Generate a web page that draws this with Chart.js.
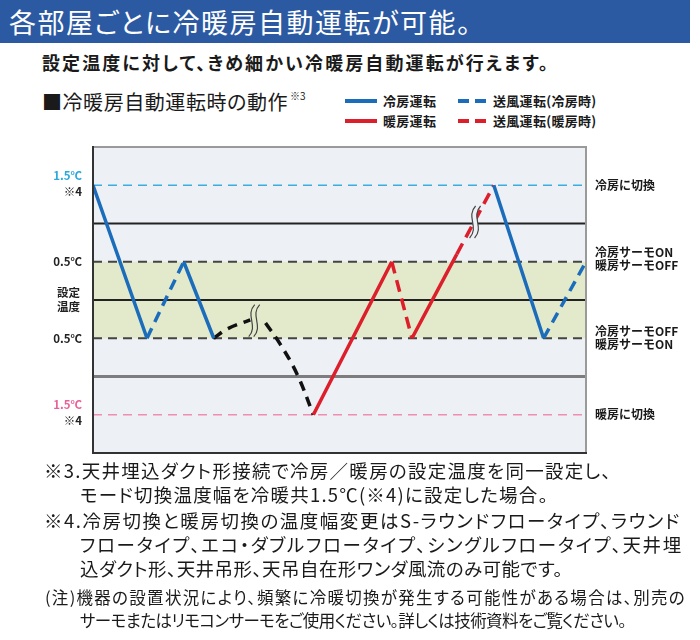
<!DOCTYPE html>
<html lang="ja">
<head>
<meta charset="utf-8">
<script src="https://cdn.jsdelivr.net/npm/chart.js@4.4.0/dist/chart.umd.min.js"></script>
<style>
  body { margin: 0; width: 700px; height: 640px; background: #fff; position: relative; overflow: hidden;
         font-family: "Noto Sans CJK JP", "Noto Sans", sans-serif; color: #1a1a1a; }
  .abs { position: absolute; white-space: nowrap; }
  .fit { font-feature-settings: "palt"; }
  #header { left: 0; top: 0; width: 690px; height: 43px; background: #2c5aa2; color: #fff;
            font-size: 27px; line-height: 43px; padding-left: 9px; box-sizing: border-box; }
  #sub { left: 42px; top: 50px; font-size: 18px; line-height: 24px; font-weight: bold; }
  #section { left: 42px; top: 89px; font-size: 20px; line-height: 26px; }
  #sectionSup { left: 290px; top: 90px; font-size: 10px; line-height: 12px; }
  .leg { font-size: 13px; font-weight: bold; line-height: 16px; letter-spacing: 0.3px; }
  .leg svg { position: absolute; top: 6px; }
  .note { font-size: 18.5px; line-height: 24px; }
  .note2 { font-size: 16.5px; line-height: 22px; }
  #wrap { position: absolute; left: 0; top: 130px; width: 700px; height: 340px; }
</style>
</head>
<body>
<div id="header" class="abs"><span class="fit" data-right="472">各部屋ごとに冷暖房自動運転が可能。</span></div>
<div id="sub" class="abs fit" data-right="550">設定温度に対して、きめ細かい冷暖房自動運転が行えます。</div>
<div id="section" class="abs fit" data-right="288">■冷暖房自動運転時の動作</div>
<div id="sectionSup" class="abs">※3</div>
<div id="legend"></div>
<div id="wrap"><canvas id="autoChart"></canvas></div>
<div class="abs note fit" data-right="612" style="left:44px; top:458px;">※3.天井埋込ダクト形接続で冷房／暖房の設定温度を同一設定し、</div>
<div class="abs note fit" data-right="549" style="left:80px; top:482px;">モード切換温度幅を冷暖共1.5℃(※4)に設定した場合。</div>
<div class="abs note fit" data-right="681" style="left:44px; top:508px;">※4.冷房切換と暖房切換の温度幅変更はS-ラウンドフロータイプ、ラウンド</div>
<div class="abs note fit" data-right="683" style="left:80px; top:532px;">フロータイプ、エコ・ダブルフロータイプ、シングルフロータイプ、天井埋</div>
<div class="abs note fit" data-right="563" style="left:80px; top:556px;">込ダクト形、天井吊形、天吊自在形ワンダ風流のみ可能です。</div>
<div class="abs note2 fit" data-right="686" style="left:45px; top:586px;">(注)機器の設置状況により、頻繁に冷暖切換が発生する可能性がある場合は、別売の</div>
<div class="abs note2 fit" data-right="626" style="left:80px; top:609px;">サーモまたはリモコンサーモをご使用ください。詳しくは技術資料をご覧ください。</div>

<script>
// 横位置 0〜100、縦は設定温度との差(℃)
const coolX = [0, 10.95, 14, 18.4, 24.5, 50, 81.3, 91.4];
const coolY = [1.5, -0.5, null, 0.5, -0.5, null, 1.5, -0.5];
const coolFanX = [10.95, 18.4, 50, 91.4, 100];
const coolFanY = [-0.5, 0.5, null, -0.5, 0.5];
const heatX = [44.7, 60.6, 62, 64.7, 73.8];
const heatY = [-1.5, 0.5, null, -0.5, 0.6];
const heatFanX = [60.6, 64.7, 70, 73.8, 81.3];
const heatFanY = [0.5, -0.5, null, 0.6, 1.5];
const transAX = [24.5, 27.2, 31.9];
const transAY = [-0.5, -0.38, -0.26];
const transBX = [35.0, 38.0, 41.4, 44.7];
const transBY = [-0.30, -0.58, -0.97, -1.5];
const breakX = [32.7, 77.5];
const breakY = [-0.27, 1.02];

// 基準線
const refTemps = [1.5, 1.0, 0.5, 0, -0.5, -1.0, -1.5];
const refColors = ['#3badde', '#222222', '#444444', '#222222', '#444444', '#7d7d7d', '#f08db0'];
const refDash = [[9, 6], [], [9, 6], [], [9, 6], [], [9, 6]];
const refWidth = [1.6, 2, 2, 2, 2, 3, 1.6];
const bandTemps = [0.5, -0.5];

const leftValues = [1.5, 0.5, 0, -0.5, -1.5];
const leftLabels = [['1.5℃', '※4'], ['0.5℃'], ['設定', '温度'], ['0.5℃'], ['1.5℃', '※4']];
const leftColors = [['#2aa7dc', '#222'], ['#222'], ['#222'], ['#222'], ['#e8609a', '#222']];
const rightValues = [1.5, 0.5, -0.5, -1.5];
const rightLabels = [['冷房に切換'], ['冷房サーモON', '暖房サーモOFF'], ['冷房サーモOFF', '暖房サーモON'], ['暖房に切換']];

const legendLabels = ['冷房運転', '送風運転(冷房時)', '暖房運転', '送風運転(暖房時)'];
const legendColors = ['#1b6dbb', '#1b6dbb', '#dc1f2b', '#dc1f2b'];
const legendDashed = [false, true, false, true];

const BLUE = '#1b6dbb', RED = '#dc1f2b';
const pts = (xs, ys) => xs.map((x, i) => ({ x: x, y: ys[i] }));

// 文字列の幅を参照画像に合わせる
document.querySelectorAll('[data-right]').forEach(el => {
    el.style.letterSpacing = '0px';
    const r = el.getBoundingClientRect();
    const n = el.textContent.length;
    const ls = (Number(el.dataset.right) - r.right) / n;
    el.style.letterSpacing = ls.toFixed(2) + 'px';
});

// 凡例 (2列×2行)
const legendEl = document.getElementById('legend');
legendLabels.forEach((name, i) => {
    const col = i % 2, row = Math.floor(i / 2);
    const left = col === 0 ? 345 : 458;
    const top = row === 0 ? 93 : 113;
    const dash = legendDashed[i] ? 'stroke-dasharray="11,6"' : '';
    const div = document.createElement('div');
    div.className = 'abs leg';
    div.style.left = left + 'px';
    div.style.top = top + 'px';
    div.style.paddingLeft = (col === 0 ? 38 : 35) + 'px';
    div.innerHTML = '<svg width="32" height="4" style="left:0"><line x1="0" y1="2" x2="' + (col === 0 ? 32 : 29) +
        '" y2="2" stroke="' + legendColors[i] + '" stroke-width="4" ' + dash + '/></svg>' + name;
    legendEl.appendChild(div);
});

const lineStyle = (color, dash) => ({
    borderColor: color, borderWidth: 3.5, borderDash: dash, pointRadius: 0,
    fill: false, spanGaps: false, order: 0
});

const datasets = [
    Object.assign({ data: pts(coolX, coolY) }, lineStyle(BLUE, [])),
    Object.assign({ data: pts(coolFanX, coolFanY) }, lineStyle(BLUE, [11, 7])),
    Object.assign({ data: pts(heatX, heatY) }, lineStyle(RED, [])),
    Object.assign({ data: pts(heatFanX, heatFanY) }, lineStyle(RED, [12, 7])),
    Object.assign({ data: pts(transAX, transAY), tension: 0.4 }, lineStyle('#111', [10, 7])),
    Object.assign({ data: pts(transBX, transBY), tension: 0.4 }, lineStyle('#111', [10, 7]))
];
refTemps.forEach((t, i) => {
    datasets.push({
        data: [{ x: 0, y: t }, { x: 100, y: t }],
        borderColor: refColors[i], borderWidth: refWidth[i], borderDash: refDash[i],
        pointRadius: 0, fill: false, order: 1
    });
});
datasets.push({
    data: [{ x: 0, y: bandTemps[0] }, { x: 100, y: bandTemps[0] }],
    borderWidth: 0, pointRadius: 0, backgroundColor: '#e3eacb',
    fill: { value: bandTemps[1] }, order: 2
});

const BG = '#edf0f5';

const framePlugin = {
    id: 'frame',
    beforeDraw(chart) {
        const { ctx, chartArea: a } = chart;
        ctx.save();
        ctx.fillStyle = BG;
        ctx.fillRect(a.left, a.top, a.right - a.left, a.bottom - a.top);
        ctx.restore();
    },
    afterDatasetsDraw(chart) {
        const { ctx, chartArea: a, scales } = chart;
        ctx.save();
        // 省略記号
        breakX.forEach((bx, i) => {
            const cx = scales.x.getPixelForValue(bx);
            const cy = scales.y.getPixelForValue(breakY[i]);
            const h = 32, gap = 5;
            const curve = (ox, reverse) => {
                if (!reverse) {
                    ctx.moveTo(cx + ox + 3, cy - h / 2);
                    ctx.bezierCurveTo(cx + ox - 7, cy - h / 6, cx + ox + 7, cy + h / 6, cx + ox - 3, cy + h / 2);
                } else {
                    ctx.lineTo(cx + ox - 3, cy + h / 2);
                    ctx.bezierCurveTo(cx + ox + 7, cy + h / 6, cx + ox - 7, cy - h / 6, cx + ox + 3, cy - h / 2);
                }
            };
            ctx.beginPath();
            curve(-gap / 2, false);
            curve(gap / 2, true);
            ctx.closePath();
            ctx.fillStyle = Math.abs(breakY[i]) < 0.5 ? '#e3eacb' : BG;
            ctx.fill();
            ctx.strokeStyle = '#444';
            ctx.lineWidth = 1.2;
            ctx.beginPath();
            curve(-gap / 2, false);
            ctx.stroke();
            ctx.beginPath();
            curve(gap / 2, false);
            ctx.stroke();
        });
        // 枠
        ctx.lineWidth = 2;
        ctx.strokeStyle = '#9a9a9a';
        ctx.beginPath();
        ctx.moveTo(a.left, a.top); ctx.lineTo(a.right, a.top); ctx.lineTo(a.right, a.bottom);
        ctx.stroke();
        ctx.strokeStyle = '#333';
        ctx.beginPath();
        ctx.moveTo(a.left, a.top - 1); ctx.lineTo(a.left, a.bottom); ctx.lineTo(a.right + 1, a.bottom);
        ctx.stroke();
        ctx.restore();
    },
    afterDraw(chart) {
        const { ctx, scales } = chart;
        ctx.save();
        ctx.textBaseline = 'middle';
        ctx.font = 'bold 11.5px "Noto Sans CJK JP"';
        ctx.textAlign = 'right';
        leftValues.forEach((v, i) => {
            const py = scales.y.getPixelForValue(v);
            const lines = leftLabels[i];
            const lh = v === 0 ? 14 : 16;
            lines.forEach((txt, j) => {
                ctx.fillStyle = leftColors[i][j];
                ctx.fillText(txt, v === 0 ? 80 : 82, py + (j - (lines.length - 1) / 2) * lh - (lines.length > 1 && v !== 0 ? 2 : 0));
            });
        });
        ctx.textAlign = 'left';
        ctx.font = 'bold 12px "Noto Sans CJK JP"';
        ctx.fillStyle = '#1a1a1a';
        rightValues.forEach((v, i) => {
            const py = scales.y.getPixelForValue(v);
            const lines = rightLabels[i];
            lines.forEach((txt, j) => {
                ctx.fillText(txt, 595, py + (j - (lines.length - 1) / 2) * 13 - (lines.length > 1 && v > 0 ? 3 : 0));
            });
        });
        ctx.restore();
    }
};

const ctx = document.getElementById('autoChart').getContext('2d');
new Chart(ctx, {
    type: 'line',
    data: { datasets: datasets },
    options: {
        responsive: true,
        maintainAspectRatio: false,
        animation: false,
        layout: { padding: { left: 93, right: 114, top: 17, bottom: 17 } },
        scales: {
            x: { type: 'linear', min: 0, max: 100, display: false },
            y: { min: -2, max: 2, display: false }
        },
        plugins: {
            legend: { display: false },
            tooltip: { enabled: false }
        }
    },
    plugins: [framePlugin]
});
</script>
</body>
</html>
